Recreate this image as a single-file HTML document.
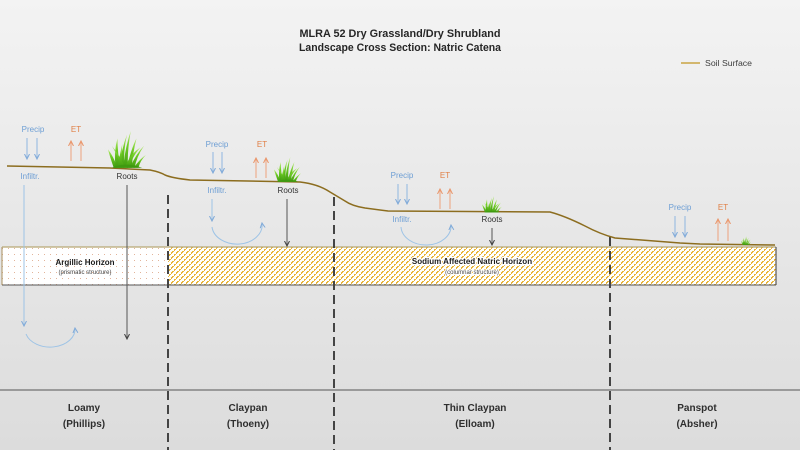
<!DOCTYPE html>
<html><head><meta charset="utf-8"><style>
html,body{margin:0;padding:0;width:800px;height:450px;overflow:hidden}
svg{display:block}
text{font-family:"Liberation Sans",sans-serif}
</style></head><body>
<svg width="800" height="450" viewBox="0 0 800 450" xmlns="http://www.w3.org/2000/svg">
<defs>
<linearGradient id="bg" x1="0" y1="0" x2="0" y2="1">
<stop offset="0" stop-color="#f3f3f3"/><stop offset="1" stop-color="#dcdcdc"/>
</linearGradient>
<pattern id="hatch" x="168" y="247" width="5" height="5" patternUnits="userSpaceOnUse">
<rect width="5" height="5" fill="#ffffff"/>
<g fill="#e9b63a" shape-rendering="crispEdges">
<rect x="4" y="0" width="1" height="1"/>
<rect x="3" y="1" width="1" height="1"/>
<rect x="2" y="2" width="1" height="1"/>
<rect x="1" y="3" width="1" height="1"/>
<rect x="0" y="4" width="1" height="1"/>
<rect x="3" y="0" width="1" height="1"/>
<rect x="1" y="2" width="1" height="1"/>
<rect x="4" y="4" width="1" height="1"/>
</g>
</pattern>
<pattern id="dots" width="6" height="6" patternUnits="userSpaceOnUse">
<rect width="6" height="6" fill="#ffffff"/>
<rect x="2" y="2" width="1" height="1" fill="#e2b49a"/>
</pattern>
<linearGradient id="gr" x1="0" y1="1" x2="0" y2="0">
<stop offset="0" stop-color="#3f9a10"/><stop offset="0.6" stop-color="#6fcc25"/><stop offset="1" stop-color="#b8ea70"/>
</linearGradient>
<marker id="ab" markerWidth="6" markerHeight="6" refX="5" refY="3" orient="auto" markerUnits="userSpaceOnUse">
<path d="M0,0.5 L5,3 L0,5.5" fill="none" stroke="#7fa9d8" stroke-width="1"/></marker>
<marker id="ao" markerWidth="6" markerHeight="6" refX="5" refY="3" orient="auto" markerUnits="userSpaceOnUse">
<path d="M0,0.5 L5,3 L0,5.5" fill="none" stroke="#e9956a" stroke-width="1"/></marker>
<marker id="ak" markerWidth="6" markerHeight="6" refX="5" refY="3" orient="auto" markerUnits="userSpaceOnUse">
<path d="M0,0.5 L5,3 L0,5.5" fill="none" stroke="#404040" stroke-width="1"/></marker>
<g id="grass">
<path d="M6,40 Q2,28 0,20 Q6,28 10,40Z" fill="url(#gr)"/>
<path d="M8,40 Q6,22 10,8 Q10,24 13,40Z" fill="url(#gr)"/>
<path d="M12,40 Q14,20 20,4 Q16,22 17,40Z" fill="url(#gr)"/>
<path d="M16,40 Q18,18 24,0 Q20,22 21,40Z" fill="url(#gr)"/>
<path d="M20,40 Q24,20 30,8 Q26,24 25,40Z" fill="url(#gr)"/>
<path d="M23,40 Q30,24 38,16 Q30,28 28,40Z" fill="url(#gr)"/>
<path d="M27,40 Q34,30 40,26 Q34,32 32,40Z" fill="url(#gr)"/>
<path d="M14,40 Q10,26 4,16 Q12,26 18,40Z" fill="url(#gr)"/>
<path d="M18,40 Q22,26 34,18 Q24,30 23,40Z" fill="url(#gr)"/>
<path d="M10,40 Q12,28 15,14 Q14,28 15,40Z" fill="url(#gr)"/>
<path d="M4,40 Q18,33 36,40Z" fill="#3f9a10"/>
</g>
</defs>
<rect width="800" height="450" fill="url(#bg)"/>

<!-- title -->
<text x="400" y="37" font-size="11" font-weight="bold" fill="#262626" text-anchor="middle" textLength="201" lengthAdjust="spacingAndGlyphs">MLRA 52 Dry Grassland/Dry Shrubland</text>
<text x="400" y="51" font-size="11" font-weight="bold" fill="#262626" text-anchor="middle" textLength="202" lengthAdjust="spacingAndGlyphs">Landscape Cross Section: Natric Catena</text>

<!-- legend -->
<line x1="681" y1="63" x2="700" y2="63" stroke="#c9a443" stroke-width="1.5"/>
<text x="705" y="66" font-size="8" fill="#404040" textLength="47" lengthAdjust="spacingAndGlyphs">Soil Surface</text>

<!-- horizons -->
<rect x="2" y="247" width="166" height="38" fill="url(#dots)"/>
<rect x="168" y="247" width="608" height="38" fill="url(#hatch)"/>
<line x1="2" y1="247" x2="776" y2="247" stroke="#b8a774" stroke-width="1.2"/>
<line x1="2" y1="285" x2="776" y2="285" stroke="#555" stroke-width="1"/>
<line x1="2" y1="247" x2="2" y2="285" stroke="#a89060" stroke-width="1"/>
<line x1="776" y1="247" x2="776" y2="285" stroke="#555" stroke-width="1.2"/>

<text x="85" y="265" font-size="8" font-weight="bold" fill="#1a1a1a" text-anchor="middle">Argillic Horizon</text>
<text x="85" y="274" font-size="6" fill="#444" text-anchor="middle">(prismatic structure)</text>
<text x="472" y="264" font-size="8" font-weight="bold" fill="#1a1a1a" text-anchor="middle" stroke="#ffffff" stroke-width="2.5" paint-order="stroke" stroke-linejoin="round">Sodium Affected Natric Horizon</text>
<text x="472" y="274" font-size="6" fill="#444" text-anchor="middle" stroke="#ffffff" stroke-width="2" paint-order="stroke" stroke-linejoin="round">(columnar structure)</text>

<!-- dashed dividers -->
<g stroke="#444" stroke-width="2" stroke-dasharray="9,5">
<line x1="168" y1="195" x2="168" y2="450"/>
<line x1="334" y1="197" x2="334" y2="450"/>
<line x1="610" y1="237" x2="610" y2="450"/>
</g>
<line x1="0" y1="390" x2="800" y2="390" stroke="#555" stroke-width="1"/>

<!-- soil surface -->
<path d="M7,166 L110,168 L150,170 Q160,172 165,175 Q172,178 190,180 L300,182 Q318,184 330,192 L345,201 Q352,206 365,208 L388,211 L550,212 Q565,216 585,226 Q600,234 615,238 L680,243 L700,244 L775,245" fill="none" stroke="#8c6d1f" stroke-width="1.5"/>

<!-- grass -->
<use href="#grass" transform="translate(108,131) scale(0.95,0.92)"/>
<use href="#grass" transform="translate(274,157) scale(0.68,0.62)"/>
<use href="#grass" transform="translate(482,196) scale(0.5,0.41)"/>
<use href="#grass" transform="translate(741,236) scale(0.25,0.22)"/>

<!-- column 1 -->
<text x="33" y="132" font-size="8" fill="#6d9ed4" text-anchor="middle">Precip</text>
<line x1="27" y1="138" x2="27" y2="159" stroke="#8fb6e0" marker-end="url(#ab)"/>
<line x1="37" y1="138" x2="37" y2="159" stroke="#8fb6e0" marker-end="url(#ab)"/>
<text x="76" y="132" font-size="8" fill="#e07f45" text-anchor="middle">ET</text>
<line x1="71" y1="161" x2="71" y2="141" stroke="#eda27c" marker-end="url(#ao)"/>
<line x1="81" y1="161" x2="81" y2="141" stroke="#eda27c" marker-end="url(#ao)"/>
<text x="30" y="179" font-size="8" fill="#6d9ed4" text-anchor="middle">Infiltr.</text>
<line x1="24" y1="185" x2="24" y2="326" stroke="#9dc3e6" marker-end="url(#ab)"/>
<path d="M26,334 A25,18 0 0 0 75,328" fill="none" stroke="#9dc3e6" marker-end="url(#ab)"/>
<text x="127" y="179" font-size="8" fill="#333" text-anchor="middle">Roots</text>
<line x1="127" y1="185" x2="127" y2="339" stroke="#555" marker-end="url(#ak)"/>

<!-- column 2 -->
<text x="217" y="147" font-size="8" fill="#6d9ed4" text-anchor="middle">Precip</text>
<line x1="213" y1="152" x2="213" y2="173" stroke="#8fb6e0" marker-end="url(#ab)"/>
<line x1="222" y1="152" x2="222" y2="173" stroke="#8fb6e0" marker-end="url(#ab)"/>
<text x="262" y="147" font-size="8" fill="#e07f45" text-anchor="middle">ET</text>
<line x1="256" y1="178" x2="256" y2="158" stroke="#eda27c" marker-end="url(#ao)"/>
<line x1="266" y1="178" x2="266" y2="158" stroke="#eda27c" marker-end="url(#ao)"/>
<text x="217" y="193" font-size="8" fill="#6d9ed4" text-anchor="middle">Infiltr.</text>
<line x1="212" y1="199" x2="212" y2="221" stroke="#9dc3e6" marker-end="url(#ab)"/>
<path d="M212,227 A25,19 0 0 0 262,223" fill="none" stroke="#9dc3e6" marker-end="url(#ab)"/>
<text x="288" y="193" font-size="8" fill="#333" text-anchor="middle">Roots</text>
<line x1="287" y1="199" x2="287" y2="246" stroke="#555" marker-end="url(#ak)"/>

<!-- column 3 -->
<text x="402" y="178" font-size="8" fill="#6d9ed4" text-anchor="middle">Precip</text>
<line x1="398" y1="184" x2="398" y2="204" stroke="#8fb6e0" marker-end="url(#ab)"/>
<line x1="407" y1="184" x2="407" y2="204" stroke="#8fb6e0" marker-end="url(#ab)"/>
<text x="445" y="178" font-size="8" fill="#e07f45" text-anchor="middle">ET</text>
<line x1="440" y1="209" x2="440" y2="189" stroke="#eda27c" marker-end="url(#ao)"/>
<line x1="450" y1="209" x2="450" y2="189" stroke="#eda27c" marker-end="url(#ao)"/>
<text x="402" y="222" font-size="8" fill="#6d9ed4" text-anchor="middle">Infiltr.</text>
<path d="M401,227 A25,19 0 0 0 451,225" fill="none" stroke="#9dc3e6" marker-end="url(#ab)"/>
<text x="492" y="222" font-size="8" fill="#333" text-anchor="middle">Roots</text>
<line x1="492" y1="228" x2="492" y2="245" stroke="#555" marker-end="url(#ak)"/>

<!-- column 4 -->
<text x="680" y="210" font-size="8" fill="#6d9ed4" text-anchor="middle">Precip</text>
<line x1="675" y1="216" x2="675" y2="237" stroke="#8fb6e0" marker-end="url(#ab)"/>
<line x1="685" y1="216" x2="685" y2="237" stroke="#8fb6e0" marker-end="url(#ab)"/>
<text x="723" y="210" font-size="8" fill="#e07f45" text-anchor="middle">ET</text>
<line x1="718" y1="241" x2="718" y2="219" stroke="#eda27c" marker-end="url(#ao)"/>
<line x1="728" y1="241" x2="728" y2="219" stroke="#eda27c" marker-end="url(#ao)"/>

<!-- bottom labels -->
<g font-size="10" font-weight="bold" fill="#2e2e2e" text-anchor="middle">
<text x="84" y="411">Loamy</text><text x="84" y="427">(Phillips)</text>
<text x="248" y="411">Claypan</text><text x="248" y="427">(Thoeny)</text>
<text x="475" y="411">Thin Claypan</text><text x="475" y="427">(Elloam)</text>
<text x="697" y="411">Panspot</text><text x="697" y="427">(Absher)</text>
</g>
</svg>
</body></html>
